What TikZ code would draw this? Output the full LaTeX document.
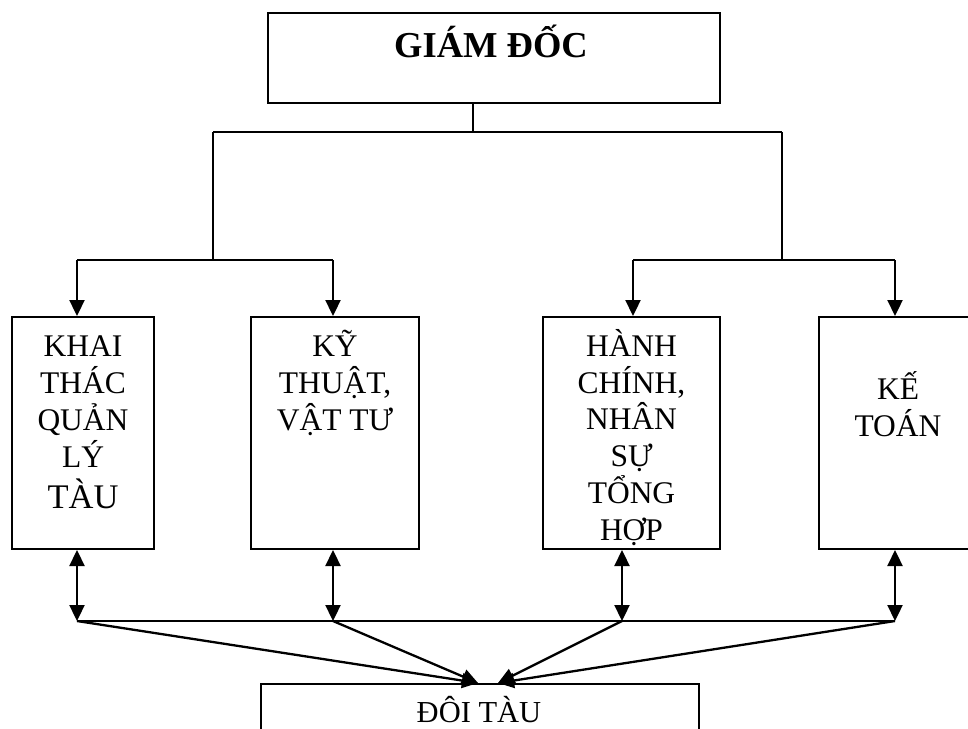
\documentclass[tikz,border=0pt]{standalone}
\usepackage{fontspec}
\setmainfont{Liberation Serif}
\usetikzlibrary{arrows.meta}
\begin{document}
\begin{tikzpicture}[x=1pt,y=-1pt,
  box/.style={draw, line width=2pt, inner sep=0pt},
  lbl/.style={anchor=base, align=center, inner sep=0pt, font=\fontsize{31.5}{36.7}\selectfont},
  link/.style={line width=2pt},
  arr/.style={line width=2.3pt, -{Triangle[length=16pt,width=15pt]}},
  darr/.style={line width=2.3pt, {Triangle[length=16pt,width=15pt]}-{Triangle[length=16pt,width=15pt]}},
]
\clip (0,0) rectangle (968,728);

% director
\node[box, minimum width=452pt, minimum height=90pt] (gd) at (494,58) {};
\node[font=\fontsize{36.5}{43}\selectfont\bfseries, anchor=base, inner sep=0pt] (gdt) at (491,57) {GIÁM ĐỐC};

% departments
\node[box, minimum width=142pt, minimum height=232pt] (b1) at (83,433) {};
\node[box, minimum width=168pt, minimum height=232pt] (b2) at (335,433) {};
\node[box, minimum width=177pt, minimum height=232pt] (b3) at (631.5,433) {};
\node[box, minimum width=158pt, minimum height=232pt] (b4) at (898,433) {};

% labels are placed by the baseline of their last line
\node[lbl] (t1) at (83,508) {KHAI\\THÁC\\QUẢN\\LÝ\\[4.3pt]{\fontsize{34.5}{41}\selectfont TÀU}};
\node[lbl] (t2) at (335,430) {KỸ\\THUẬT,\\VẬT TƯ};
\node[lbl] (t3) at (631.5,540) {HÀNH\\CHÍNH,\\NHÂN\\SỰ\\TỔNG\\HỢP};
\node[lbl] (t4) at (898,436.5) {KẾ\\TOÁN};

% fleet
\node[box, minimum width=438pt, minimum height=76pt] (db) at (480,722) {};
\node[font=\fontsize{30.5}{36}\selectfont, anchor=base, inner sep=0pt] (dbt) at (479,722) {ĐÔI TÀU};

% director to departments
\coordinate (stem) at (473,132);
\coordinate (sl) at (213,132);
\coordinate (sr) at (782,132);
\coordinate (jl) at (213,260);
\coordinate (jr) at (782,260);
\coordinate (a1) at (77,260);
\coordinate (a2) at (333,260);
\coordinate (a3) at (633,260);
\coordinate (a4) at (895,260);
\draw[link] (gd.south -| stem) -- (stem);
\draw[link] (sl) -- (sr);
\draw[link] (sl) -- (jl);
\draw[link] (sr) -- (jr);
\draw[link] (a1) -- (a2);
\draw[link] (a3) -- (a4);
\draw[arr] (a1) -- (a1 |- b1.north);
\draw[arr] (a2) -- (a2 |- b2.north);
\draw[arr] (a3) -- (a3 |- b3.north);
\draw[arr] (a4) -- (a4 |- b4.north);

% departments to fleet
\coordinate (c1) at (77,621);
\coordinate (c2) at (333,621);
\coordinate (c3) at (622,621);
\coordinate (c4) at (895,621);
\draw[darr] (c1 |- b1.south) -- (c1);
\draw[darr] (c2 |- b2.south) -- (c2);
\draw[darr] (c3 |- b3.south) -- (c3);
\draw[darr] (c4 |- b4.south) -- (c4);
\draw[link] (c1) -- (c4);
\coordinate (inL) at (478,684);
\coordinate (inR) at (498,684);
\draw[arr] (c1) -- (inL |- db.north);
\draw[arr] (c2) -- (inL |- db.north);
\draw[arr] (c3) -- (inR |- db.north);
\draw[arr] (c4) -- (inR |- db.north);
\end{tikzpicture}
\end{document}
